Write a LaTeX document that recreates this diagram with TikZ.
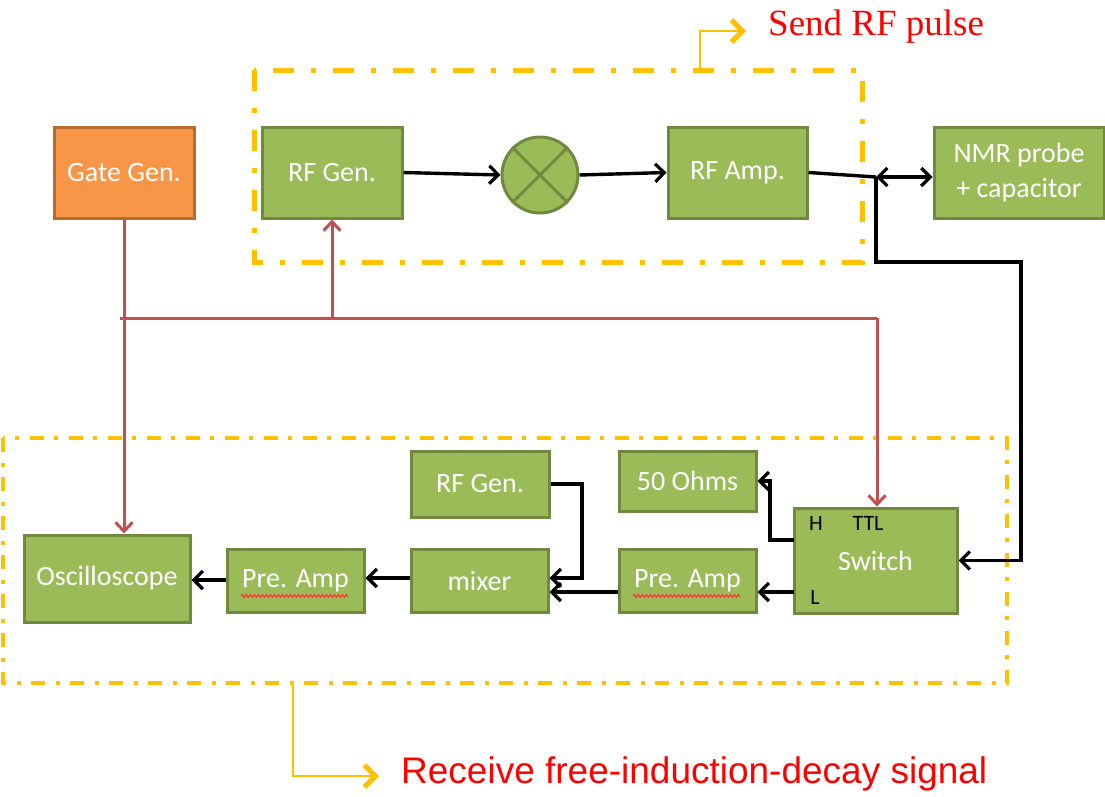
\documentclass[tikz,border=0pt]{standalone}
\usepackage{fontspec}
\setmainfont{Carlito}
\newfontfamily\seriffont{Liberation Serif}
\newfontfamily\arialfont{Liberation Sans}
\usetikzlibrary{arrows.meta,decorations.pathmorphing}
\definecolor{gfill}{HTML}{9BBB59}
\definecolor{gline}{HTML}{71893F}
\definecolor{ofill}{HTML}{F79646}
\definecolor{oline}{HTML}{B66D31}
\definecolor{ylw}{HTML}{FFC000}
\definecolor{redl}{HTML}{C0504D}
\tikzset{
  gbox/.style={draw=gline, fill=gfill, line width=3pt, text=white, font=\fontsize{28}{31}\selectfont, inner sep=0pt},
  obox/.style={gbox, draw=oline, fill=ofill},
  btip/.tip={Straight Barb[length=9pt,width=18pt,line width=3.2pt]},
  rtip/.tip={Straight Barb[length=9pt,width=17pt,line width=3pt]},
  blk/.style={draw=black, line width=3.4pt, -btip},
  blkline/.style={draw=black, line width=3.4pt},
  redarr/.style={draw=redl, line width=3pt, -rtip},
  redline/.style={draw=redl, line width=3pt},
  topdash/.style={draw=ylw, line width=5pt, dash pattern=on 21pt off 17pt on 5pt off 17pt},
  botdash/.style={draw=ylw, line width=4.5pt, dash pattern=on 14pt off 11pt on 4pt off 10pt},
  ylwarr/.style={draw=ylw, line width=2.5pt, -{Straight Barb[length=11pt,width=22pt,line width=5pt]}},
  smalltxt/.style={text=black, font=\fontsize{22}{24}\selectfont, inner sep=0pt},
  squig/.style={draw=red!80!white, line width=1.2pt, decorate, decoration={snake, amplitude=1.3pt, segment length=4pt}}
}
\begin{document}
\begin{tikzpicture}[x=1pt,y=-1pt]
\useasboundingbox (0,0) rectangle (1105,796);

% dashed group frames
\draw[topdash] (254,70) rectangle (862,262);
\draw[botdash] (3,438) rectangle (1007,683);

% nodes
\node[obox, minimum width=140pt, minimum height=91pt] (gate) at (124,172.5) {Gate Gen.};
\node[gbox, minimum width=140pt, minimum height=91pt] (rfgen) at (332,172.5) {RF Gen.};
\node[gbox, circle, minimum size=76pt] (mx) at (540,175) {};
\draw[gline, line width=3pt] (mx.45) -- (mx.225) (mx.135) -- (mx.315);
\node[gbox, minimum width=139pt, minimum height=91pt] (rfamp) at (737.5,172.5) {RF Amp.};
\node[gbox, minimum width=170pt, minimum height=91pt, align=center] (nmr) at (1019,172.5) {NMR probe\\[4pt]+ capacitor};

\node[gbox, minimum width=138pt, minimum height=66pt] (rfgen2) at (480,484) {RF Gen.};
\node[gbox, minimum width=137pt, minimum height=60pt] (ohm) at (687.5,481) {50 Ohms};
\node[gbox, minimum width=163pt, minimum height=105pt] (sw) at (875.5,560.5) {Switch};
\node[smalltxt] (hlab) at (816,523) {H};
\node[smalltxt] (ttl) at (868,523) {TTL};
\node[smalltxt] (llab) at (815,597) {L};
\node[gbox, minimum width=166pt, minimum height=87pt] (osc) at (107,578.5) {Oscilloscope};
\node[gbox, minimum width=137pt, minimum height=63pt] (pa1) at (295.5,580.5) {Pre. Amp};
\node[gbox, minimum width=137pt, minimum height=63pt] (mix) at (479.5,580.5) {mixer};
\node[gbox, minimum width=137pt, minimum height=63pt] (pa2) at (687.5,580.5) {Pre. Amp};
\draw[squig] (241,596) -- (348,596);
\draw[squig] (633,596) -- (740,596);

% labels
\node[text=red, font=\seriffont\fontsize{37}{40}\selectfont, anchor=west, inner sep=0pt] (send) at (768,27) {Send RF pulse};
\node[text=red, font=\arialfont\fontsize{37}{40}\selectfont, anchor=west, inner sep=0pt] (recv) at (401,774) {Receive free-induction-decay signal};
\coordinate (sendstart) at (700,69);
\coordinate (recvstart) at (293,684);
\draw[ylwarr] (sendstart) |- ([xshift=-22pt,yshift=-4pt]send.west);
\draw[ylwarr] (recvstart) |- ([xshift=-22pt,yshift=-2pt]recv.west);

% black transmit chain
\draw[blk] (rfgen.east) -- (mx.west);
\draw[blk] (mx.east) -- (rfamp.west);
\coordinate (jn) at (876,177);
\draw[blkline] (rfamp.east) -- (jn);
\draw[blk, btip-btip] (jn) -- (nmr.west |- jn);
\coordinate (c1) at (876,262);
\coordinate (c2) at (1021,262);
\draw[blk] (jn) -- (c1) -- (c2) |- (sw.east);

% receive chain
\coordinate (swH) at (794,540);
\coordinate (swL) at (794,592);
\draw[blk] (swH) -- (770,540) |- (ohm.east);
\draw[blk] (swL) -- (pa2.east |- swL);
\draw[blk] (pa2.west |- swL) -- (mix.east |- swL);
\draw[blk] (rfgen2.east) -- (582,484) |- (mix.east |- 0,578);
\draw[blk] (mix.west |- 0,578) -- (pa1.east |- 0,578);
\draw[blk] (pa1.west |- 0,580) -- (osc.east |- 0,580);

% red gate lines
\draw[redarr] (gate.south) -- (gate.south |- osc.north);
\coordinate (r0) at (120,318);
\coordinate (r1) at (332,318);
\coordinate (r2) at (877,318);
\draw[redline] (r0) -- (r2);
\draw[redarr] (r1) -- (rfgen.south);
\draw[redarr] (r2) -- (r2 |- sw.north);
\end{tikzpicture}
\end{document}
